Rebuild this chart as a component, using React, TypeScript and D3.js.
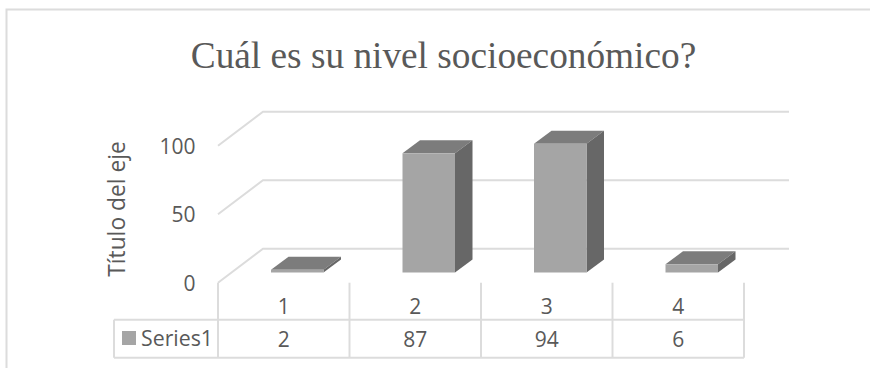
import React from "react";
import * as d3 from "d3";

const categories = ["1", "2", "3", "4"];
const values = [2, 87, 94, 6];
const yTicks = [0, 50, 100];
const seriesName = "Series1";
const title = "Cuál es su nivel socioeconómico?";
const yTitle = "Título del eje";

const W = 870, H = 368;
const floorY = 282.7, topY = 145.7;
const left = 218, right = 744;
const depthX = 45, depthY = 34;
const backRight = 789;
const tableMid = 319.7, tableBottom = 357.7, tableLeft = 114;
const grid = "#dcdcdc";
const text = "#595959";
const sans = "'Open Sans', 'Noto Sans', sans-serif";

export default function App() {
  const x = d3.scaleBand<string>().domain(categories).range([left, right]).paddingInner(0).paddingOuter(0);
  const y = d3.scaleLinear().domain([0, 100]).range([floorY, topY]);
  const bw = 52.5;
  const ox = depthX * 0.3, oy = depthY * 0.3;
  const bx = 17.5, by = 13;
  const bounds = categories.map((c) => x(c)!).concat(right);
  return (
    <svg width={W} height={H} style={{ position: "absolute", left: 0, top: 0, background: "#fff" }}>
      <rect x={6.5} y={9.5} width={900} height={400} fill="#fff" stroke={grid} strokeWidth={2} />
      <text x={443.5} y={68} textAnchor="middle" fontFamily="'Liberation Serif', serif" fontSize={37.3} fill={text}>{title}</text>
      {yTicks.map((t) => (
        <g key={t}>
          <polyline points={`${left},${y(t)} ${left + depthX},${y(t) - depthY} ${backRight},${y(t) - depthY}`} fill="none" stroke={grid} strokeWidth={2} />
          <text x={195.5} y={y(t) + 8} textAnchor="end" fontFamily={sans} fontSize={21} fill={text}>{t}</text>
        </g>
      ))}
      <text transform="translate(125,209) rotate(-90)" textAnchor="middle" fontFamily={sans} fontSize={22.8} fill={text}>{yTitle}</text>
      {categories.map((c, i) => {
        const x0 = x(c)! + (x.bandwidth() - bw) / 2 + ox;
        const y0 = floorY - oy;
        const yt = y(values[i]) - oy;
        const x1 = x0 + bw;
        return (
          <g key={c}>
            <path d={d3.line()([[x0, yt], [x0 + bx, yt - by], [x1 + bx, yt - by], [x1, yt]])! + "Z"} fill="#7c7c7c" />
            <path d={d3.line()([[x1, yt], [x1 + bx, yt - by], [x1 + bx, y0 - by], [x1, y0]])! + "Z"} fill="#676767" />
            <rect x={x0} y={yt} width={bw} height={y0 - yt} fill="#a5a5a5" />
          </g>
        );
      })}
      <g stroke={grid} strokeWidth={2} fill="none">
        {bounds.map((b) => <line key={b} x1={b} x2={b} y1={floorY} y2={tableBottom} />)}
        <line x1={tableLeft} x2={right} y1={tableMid} y2={tableMid} />
        <line x1={tableLeft} x2={right} y1={tableBottom} y2={tableBottom} />
        <line x1={tableLeft} x2={tableLeft} y1={tableMid} y2={tableBottom} />
      </g>
      {categories.map((c, i) => (
        <g key={c} fontFamily={sans} fontSize={21} fill={text} textAnchor="middle">
          <text x={x(c)! + x.bandwidth() / 2} y={313.5}>{c}</text>
          <text x={x(c)! + x.bandwidth() / 2} y={346.5}>{values[i]}</text>
        </g>
      ))}
      <rect x={122} y={331} width={14} height={14} fill="#a5a5a5" />
      <text x={141} y={346} fontFamily={sans} fontSize={21.3} fill={text}>{seriesName}</text>
    </svg>
  );
}
